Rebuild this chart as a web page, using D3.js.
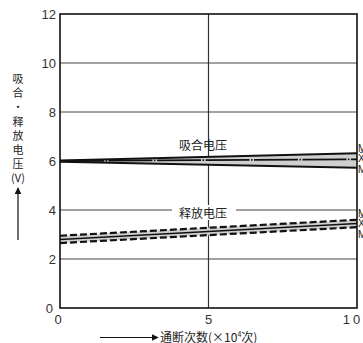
<!DOCTYPE html>
<html><head><meta charset="utf-8">
<script src="https://cdn.jsdelivr.net/npm/d3@7"></script>
<style>
html,body{margin:0;padding:0;background:#fff;overflow:hidden;}
svg{display:block;font-family:"Liberation Sans",Arial,sans-serif;}
.cjk{font-family:"Noto Sans CJK SC","Noto Sans",sans-serif;}
</style></head>
<body>
<svg id="c" width="363" height="343"></svg>
<script>
const cycles = [0, 10];
const attractMax = [6.02, 6.32];
const attractMean = [6.0, 6.07];
const attractMin = [5.97, 5.72];
const releaseMax = [2.95, 3.6];
const releaseMean = [2.8, 3.45];
const releaseMin = [2.65, 3.3];
const xTicks = [0, 5, 10];
const yTicks = [0, 2, 4, 6, 8, 10, 12];
const gridY = [2, 4, 6, 8, 10];
const gridX = [5];
const yTitle = "吸合・释放电压";
const yUnit = "(V)";
const sideLabels = ["MAX", "X̄", "MIN"];

const svg = d3.select("#c");
const x = d3.scaleLinear().domain([0, 10]).range([60, 357]);
const y = d3.scaleLinear().domain([0, 12]).range([308, 14]);

const defs = svg.append("defs");
defs.append("marker").attr("id", "ah").attr("viewBox", "0 0 10 10")
  .attr("refX", 9).attr("refY", 5).attr("markerWidth", 7).attr("markerHeight", 7)
  .attr("markerUnits", "userSpaceOnUse").attr("orient", "auto")
  .append("path").attr("d", "M0,0L10,5L0,10z").attr("fill", "#111");

// grid
const g = svg.append("g");
g.selectAll(".gy").data(gridY).join("line")
  .attr("x1", x(0)).attr("x2", x(10)).attr("y1", d => y(d)).attr("y2", d => y(d))
  .attr("stroke", "#444").attr("stroke-width", 1);
g.selectAll(".gx").data(gridX).join("line")
  .attr("x1", d => x(d)).attr("x2", d => x(d)).attr("y1", y(0)).attr("y2", y(12))
  .attr("stroke", "#333").attr("stroke-width", 1.2);

const idx = d3.range(cycles.length);
const area = (hi, lo) => d3.area().x(i => x(cycles[i])).y0(i => y(lo[i])).y1(i => y(hi[i]))(idx);
const line = arr => d3.line().x(i => x(cycles[i])).y(i => y(arr[i]))(idx);

// attract band
g.append("path").attr("d", area(attractMax, attractMin)).attr("fill", "#cfcfcf");
g.append("path").attr("d", line(attractMax)).attr("stroke", "#111").attr("stroke-width", 2).attr("fill", "none");
g.append("path").attr("d", line(attractMin)).attr("stroke", "#111").attr("stroke-width", 2).attr("fill", "none");
g.append("path").attr("d", line(attractMean)).attr("stroke", "#111").attr("stroke-width", 1.8).attr("fill", "none")
  .attr("stroke-dasharray", "44 1.5 1.5 1.5");

// release band
g.append("path").attr("d", area(releaseMax, releaseMin)).attr("fill", "#cfcfcf");
g.append("path").attr("d", line(releaseMax)).attr("stroke", "#111").attr("stroke-width", 2.2).attr("fill", "none").attr("stroke-dasharray", "7 3");
g.append("path").attr("d", line(releaseMin)).attr("stroke", "#111").attr("stroke-width", 2.2).attr("fill", "none").attr("stroke-dasharray", "7 3");
g.append("path").attr("d", line(releaseMean)).attr("stroke", "#111").attr("stroke-width", 1.5).attr("fill", "none");

// series labels
g.append("text").attr("class", "cjk").attr("x", 203).attr("y", 150).attr("text-anchor", "middle")
  .attr("font-size", 12).attr("fill", "#222").text("吸合电压");
g.append("rect").attr("x", 172).attr("y", 205).attr("width", 64).attr("height", 15).attr("fill", "#fff");
g.append("text").attr("class", "cjk").attr("x", 203).attr("y", 218).attr("text-anchor", "middle")
  .attr("font-size", 12).attr("fill", "#222").text("释放电压");

// frame
svg.append("rect").attr("x", x(0)).attr("y", y(12)).attr("width", x(10) - x(0)).attr("height", y(0) - y(12))
  .attr("fill", "none").attr("stroke", "#111").attr("stroke-width", 1.6);

// tick labels
svg.selectAll(".yt").data(yTicks).join("text")
  .attr("x", d => d === 0 ? 53 : 56).attr("y", d => y(d) + 5).attr("text-anchor", "end")
  .attr("font-size", 13).attr("fill", "#333").text(d => d);
svg.selectAll(".xt").data(xTicks).join("text")
  .attr("x", d => d === 0 ? 58 : d === 10 ? 353 : x(d)).attr("y", 324).attr("text-anchor", "middle")
  .attr("font-size", 13).attr("fill", "#333")
  .attr("letter-spacing", d => d === 10 ? 3 : 0).text(d => d);

// right side labels (clipped by the window edge, as in the reference)
const sideA = [152, 162, 173], sideR = [217, 227, 238];
svg.selectAll(".sa").data(sideLabels).join("text").attr("x", 358).attr("y", (d, i) => sideA[i])
  .attr("font-size", 10).attr("fill", "#222").text(d => d);
svg.selectAll(".sr").data(sideLabels).join("text").attr("x", 358).attr("y", (d, i) => sideR[i])
  .attr("font-size", 10).attr("fill", "#222").text(d => d);

// y title (vertical)
svg.append("text").attr("class", "cjk").attr("x", 18).attr("y", 73)
  .style("writing-mode", "vertical-rl").style("text-orientation", "upright")
  .attr("letter-spacing", 3.3).attr("font-size", 11).attr("fill", "#222").text(yTitle);
svg.append("text").attr("class", "cjk").attr("x", 18).attr("y", 182).attr("text-anchor", "middle")
  .attr("font-size", 11).attr("fill", "#222").text(yUnit);
svg.append("line").attr("x1", 18).attr("x2", 18).attr("y1", 240).attr("y2", 188)
  .attr("stroke", "#111").attr("stroke-width", 1.2).attr("marker-end", "url(#ah)");

// x title
svg.append("line").attr("x1", 100).attr("x2", 158).attr("y1", 337.5).attr("y2", 337.5)
  .attr("stroke", "#111").attr("stroke-width", 1.2).attr("marker-end", "url(#ah)");
const xt = svg.append("text").attr("class", "cjk").attr("x", 160).attr("y", 342)
  .attr("font-size", 12).attr("fill", "#222");
xt.append("tspan").text("通断次数(×10");
xt.append("tspan").attr("font-size", 7).attr("dy", -5).text("4");
xt.append("tspan").attr("dy", 5).text("次)");
</script>
</body></html>
